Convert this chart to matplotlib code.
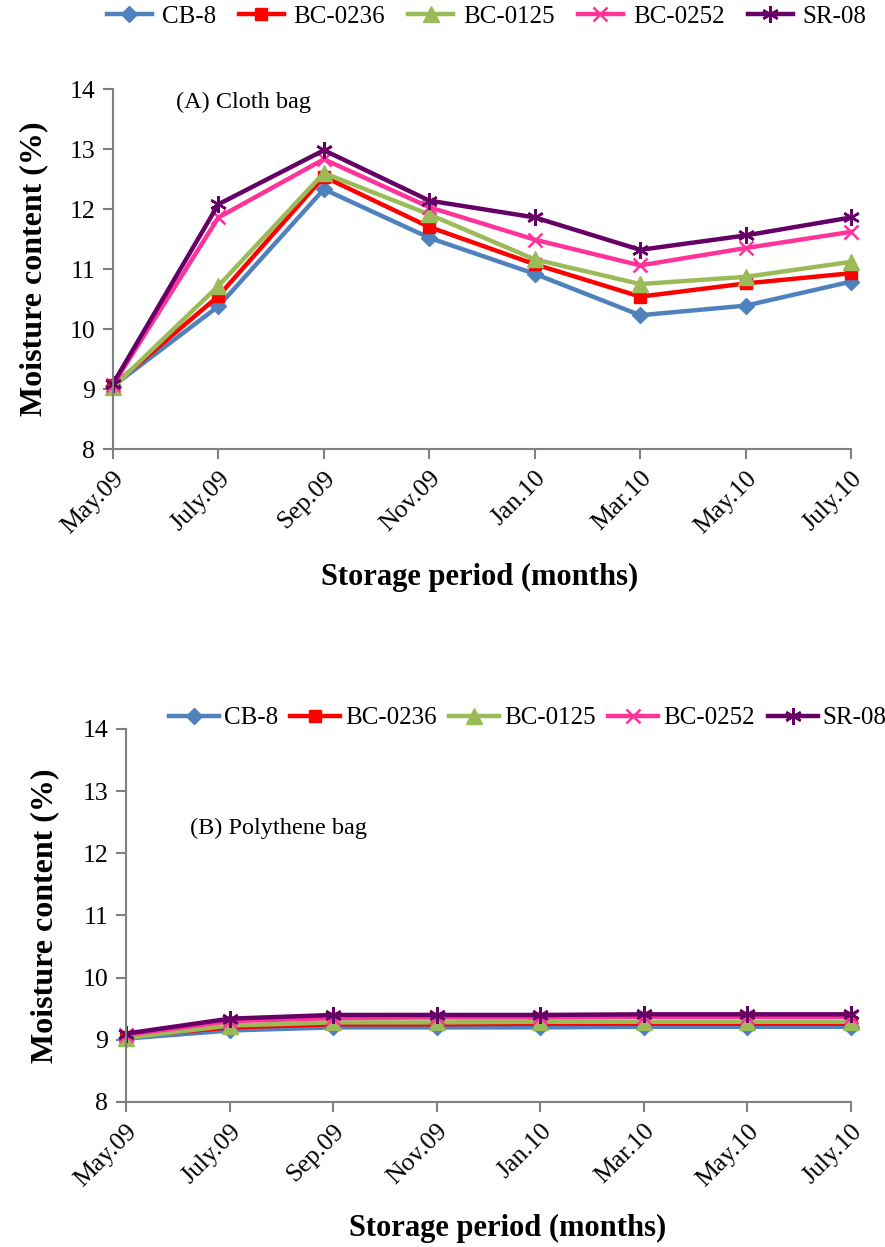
import matplotlib
matplotlib.use("Agg")
import matplotlib.pyplot as plt

months = ["May.09", "July.09", "Sep.09", "Nov.09", "Jan.10", "Mar.10", "May.10", "July.10"]
series_names = ["CB-8", "BC-0236", "BC-0125", "BC-0252", "SR-08"]

# (A) Cloth bag
cloth_cb8 = [9.05, 10.38, 12.33, 11.52, 10.92, 10.23, 10.39, 10.79]
cloth_bc0236 = [9.06, 10.55, 12.54, 11.70, 11.08, 10.54, 10.76, 10.93]
cloth_bc0125 = [9.03, 10.72, 12.60, 11.91, 11.16, 10.75, 10.87, 11.12]
cloth_bc0252 = [9.07, 11.86, 12.83, 12.03, 11.49, 11.06, 11.35, 11.62]
cloth_sr08 = [9.09, 12.08, 12.98, 12.14, 11.86, 11.32, 11.56, 11.86]

# (B) Polythene bag
poly_cb8 = [9.02, 9.15, 9.20, 9.20, 9.20, 9.21, 9.21, 9.21]
poly_bc0236 = [9.05, 9.20, 9.25, 9.25, 9.26, 9.26, 9.26, 9.26]
poly_bc0125 = [9.03, 9.23, 9.28, 9.28, 9.29, 9.29, 9.29, 9.29]
poly_bc0252 = [9.08, 9.30, 9.35, 9.36, 9.36, 9.37, 9.37, 9.37]
poly_sr08 = [9.10, 9.34, 9.40, 9.40, 9.40, 9.41, 9.41, 9.41]

yticks = [8, 9, 10, 11, 12, 13, 14]

colors = ["#4F81BD", "#FF0000", "#9BBB59", "#FF3399", "#660066"]
markers = ["D", "s", "^", "x", (6, 2, 0)]
msizes = [8.5, 8.5, 11, 10, 12]

FAM = ['Liberation Serif', 'DejaVu Serif']
plt.rcParams['font.family'] = 'serif'
plt.rcParams['font.serif'] = FAM

fig = plt.figure(figsize=(8.85, 12.47), dpi=100)
ax1 = fig.add_axes([0.1277, 0.6399, 0.834, 0.2887])
ax2 = fig.add_axes([0.1424, 0.1163, 0.8192, 0.2991])

x = list(range(len(months)))

def draw(ax, data, label_text, tx, ty, legend_anchor, hl, htp, colsp, xl, yl):
    handles = []
    for vals, name, c, m, ms in zip(data, series_names, colors, markers, msizes):
        h, = ax.plot(x, vals, color=c, lw=3.2, marker=m, markersize=ms,
                     markeredgewidth=1.8 if m in ("x", (6, 2, 0)) else 1.0,
                     markeredgecolor=c, markerfacecolor=c, label=name, clip_on=False)
        handles.append(h)
    ax.set_xlim(0, len(months) - 1)
    ax.set_ylim(8, 14)
    ax.set_yticks(yticks)
    ax.set_yticklabels([str(v) for v in yticks], family=FAM, fontsize=18.5)
    ax.set_xticks(x)
    ax.set_xticklabels(months, rotation=45, ha="right", rotation_mode="anchor",
                       family=FAM, fontsize=18.5)
    for s in ["top", "right"]:
        ax.spines[s].set_visible(False)
    for s in ["left", "bottom"]:
        ax.spines[s].set_color("#808080")
        ax.spines[s].set_linewidth(1.5)
    ax.tick_params(axis="both", direction="out", length=7, width=1.5, color="#808080", pad=6)
    ax.set_ylabel("Moisture content (%)", fontsize=23, fontweight="bold", family=FAM,
                  ha="center", va="center")
    ax.yaxis.set_label_coords(yl[0], yl[1])
    ax.set_xlabel("Storage period (months)", fontsize=22, fontweight="bold", family=FAM,
                  ha="center", va="center")
    ax.xaxis.set_label_coords(xl[0], xl[1])
    ax.text(tx, ty, label_text, fontsize=17.5, va="center", ha="left", family=FAM)
    ax.legend(handles=handles, loc="center", bbox_to_anchor=legend_anchor,
              bbox_transform=fig.transFigure, ncol=5, frameon=False,
              prop={'family': FAM, 'size': 18},
              handlelength=hl, handletextpad=htp, columnspacing=colsp, borderaxespad=0)

draw(ax1, [cloth_cb8, cloth_bc0236, cloth_bc0125, cloth_bc0252, cloth_sr08],
     "(A) Cloth bag", 0.6, 13.77, (0.5497, 0.9864), 1.8, 0.4, 0.92,
     (0.497, -0.358), (-0.108, 0.5))
draw(ax2, [poly_cb8, poly_bc0236, poly_bc0125, poly_bc0252, poly_sr08],
     "(B) Polythene bag", 0.62, 12.4, (0.596, 0.4242), 2.0, 0.2, 0.5,
     (0.527, -0.338), (-0.112, 0.5))

fig.savefig("out.png", dpi=100)
